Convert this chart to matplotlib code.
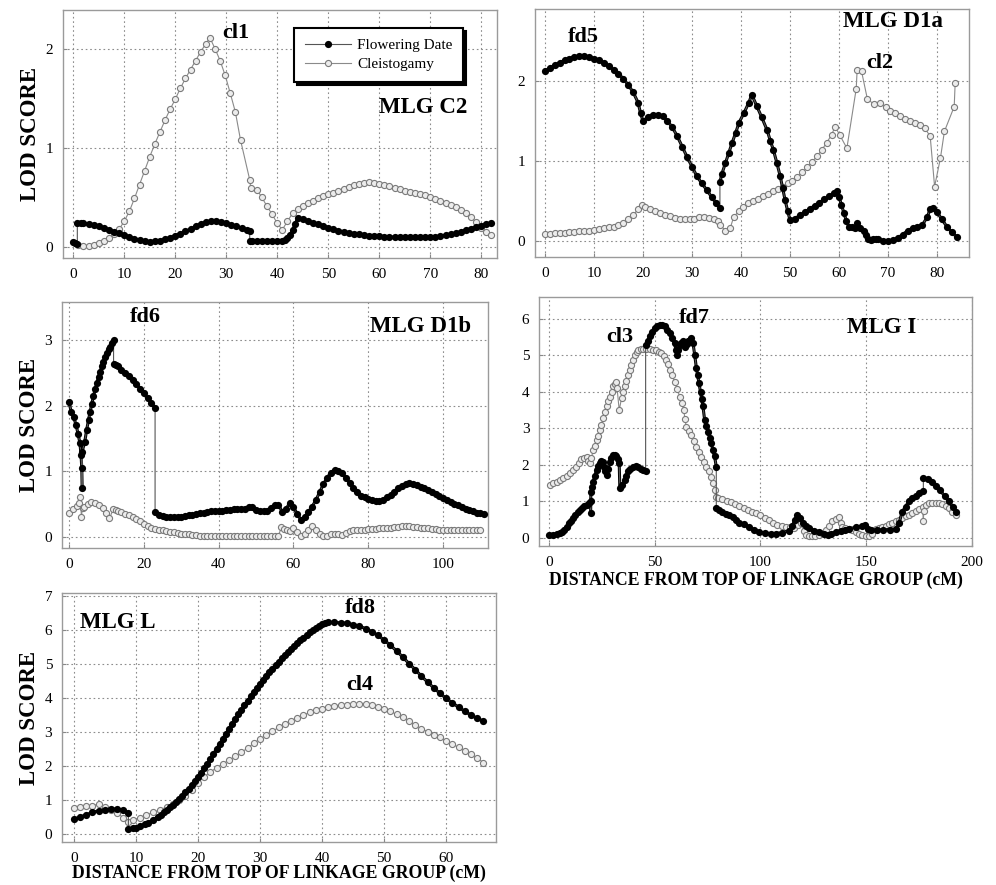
import matplotlib
matplotlib.use("Agg")
import matplotlib.pyplot as plt

plt.rcParams['font.family'] = 'serif'
plt.rcParams['font.serif'] = ['Liberation Serif', 'DejaVu Serif']

# ---------------- MLG C2 ----------------
c2_fd_x = [0, 0.4, 0.8, 0.8, 1.5] + list(range(2, 35)) + [34.6, 34.6] + list(range(35, 42)) \
    + [41.5, 42, 42.5, 43, 43.5] + list(range(44, 83))
c2_fd_y = [0.05, 0.04, 0.03, 0.24, 0.24,
           0.24, 0.23, 0.22, 0.21, 0.19, 0.17, 0.155, 0.14, 0.12, 0.10, 0.085, 0.07, 0.06, 0.055,
           0.06, 0.065, 0.08, 0.095, 0.115, 0.135, 0.16, 0.18, 0.21, 0.23, 0.25, 0.26, 0.26,
           0.25, 0.24, 0.22, 0.21, 0.19, 0.17,
           0.16, 0.06,
           0.06, 0.06, 0.06, 0.06, 0.06, 0.06, 0.06,
           0.07, 0.09, 0.12, 0.17, 0.23,
           0.29, 0.28, 0.26, 0.245, 0.23, 0.21, 0.195, 0.18, 0.165, 0.155, 0.145, 0.135, 0.13,
           0.12, 0.115, 0.11, 0.11, 0.105, 0.10, 0.10, 0.10, 0.10, 0.10, 0.10, 0.10, 0.10, 0.10,
           0.105, 0.11, 0.12, 0.13, 0.14, 0.155, 0.17, 0.185, 0.2, 0.215, 0.23, 0.24]
c2_cl_x = list(range(1, 27)) + [26.8, 27.8, 28.8, 29.8, 30.8, 31.8, 32.8, 34.6, 34.8] + list(range(36, 83))
c2_cl_y = [0.02, 0.01, 0.015, 0.02, 0.04, 0.06, 0.09, 0.13, 0.18, 0.26, 0.36, 0.49, 0.63,
           0.77, 0.91, 1.04, 1.16, 1.28, 1.39, 1.49, 1.6, 1.7, 1.79, 1.88, 1.97, 2.05,
           2.11, 2.0, 1.88, 1.73, 1.55, 1.36, 1.08, 0.68, 0.6,
           0.58, 0.5, 0.41, 0.33, 0.24, 0.175, 0.26, 0.34, 0.38, 0.41, 0.44, 0.46, 0.49, 0.51,
           0.53, 0.55, 0.57, 0.59, 0.61, 0.63, 0.64, 0.65, 0.655, 0.65, 0.64, 0.63, 0.62, 0.6,
           0.59, 0.57, 0.56, 0.55, 0.53, 0.52, 0.5, 0.48, 0.46, 0.44, 0.42, 0.4, 0.37, 0.34,
           0.3, 0.25, 0.19, 0.15, 0.12]

# ---------------- MLG D1a ----------------
d1a_fd_x = list(range(0, 20)) + [19.5, 20] + list(range(21, 36)) \
    + [35.7, 35.7, 36.1, 36.8, 37.5, 38.2, 38.9, 39.6, 40.6, 41.6, 42.2, 43.2, 44.2, 45.3,
       46, 46.6, 47.3, 48, 48.5, 49, 49.5, 50] + list(range(51, 60)) \
    + [59.5, 60, 60.5, 61, 61.5, 62, 62.7, 63.3, 63.7, 64.2, 65, 65.5, 66, 66.5, 67, 67.5, 68] \
    + list(range(69, 78)) + [78, 78.6, 79.2, 80, 81, 82, 83, 84]
d1a_fd_y = [2.12, 2.16, 2.2, 2.23, 2.26, 2.28, 2.3, 2.31, 2.31, 2.3, 2.28, 2.26, 2.23, 2.19,
            2.14, 2.09, 2.03, 1.95, 1.86, 1.73,
            1.6, 1.5,
            1.55, 1.58, 1.58, 1.56, 1.5, 1.42, 1.31, 1.18, 1.05, 0.93, 0.81, 0.72, 0.64, 0.55, 0.47,
            0.41, 0.74, 0.84, 0.97, 1.1, 1.23, 1.35, 1.48, 1.6, 1.73, 1.83, 1.69, 1.55, 1.39,
            1.25, 1.14, 0.98, 0.81, 0.66, 0.51, 0.38, 0.26,
            0.28, 0.32, 0.36, 0.4, 0.44, 0.48, 0.52, 0.56, 0.6,
            0.62, 0.55, 0.45, 0.35, 0.25, 0.18, 0.17, 0.16, 0.22, 0.16, 0.13, 0.08, 0.03, 0.01,
            0.02, 0.03, 0.02,
            0.0, 0.0, 0.01, 0.04, 0.08, 0.13, 0.16, 0.18, 0.2,
            0.3, 0.4, 0.41, 0.36, 0.27, 0.18, 0.11, 0.05]
d1a_cl_x = list(range(0, 20)) \
    + [19.7, 20.5, 21.5, 22.5, 23.5, 24.5, 25.5, 26.5, 27.5, 28.5, 29.5, 30.5, 31.5, 32.5,
       33.5, 34.5, 35.4, 35.8, 36.8, 37.8, 38.5, 39.5, 40.5, 41.5, 42.5, 43.5, 44.5, 45.5,
       46.5, 47.5, 48.5, 49.5, 50.5, 51.5, 52.5, 53.5, 54.5, 55.5, 56.5, 57.5, 58.5, 59.2,
       60.1, 61.6, 63.5, 63.7, 64.6, 65.8, 67.2, 68.3, 69.5, 70.5, 71.5, 72.5, 73.5, 74.5,
       75.5, 76.5, 77.5, 78.6, 79.5, 80.7, 81.5, 83.5, 83.7]
d1a_cl_y = [0.09, 0.09, 0.095, 0.1, 0.1, 0.11, 0.11, 0.12, 0.12, 0.13, 0.14, 0.15, 0.16,
            0.17, 0.18, 0.2, 0.22, 0.27, 0.32, 0.4,
            0.45, 0.42, 0.4, 0.37, 0.35, 0.33, 0.31, 0.29, 0.28, 0.27, 0.27, 0.28, 0.3, 0.3,
            0.29, 0.27, 0.25, 0.2, 0.13, 0.16, 0.3, 0.37, 0.42, 0.47, 0.5, 0.53, 0.56, 0.59,
            0.62, 0.65, 0.68, 0.72, 0.75, 0.8, 0.86, 0.92, 0.99, 1.06, 1.14, 1.23, 1.33, 1.43,
            1.33, 1.16, 1.9, 2.14, 2.12, 1.77, 1.71, 1.73, 1.67, 1.63, 1.6, 1.56, 1.52, 1.5,
            1.47, 1.45, 1.41, 1.31, 0.68, 1.04, 1.37, 1.68, 1.98]

# ---------------- MLG D1b ----------------
d1b_fd_x = [0, 0.6, 1.2, 1.9, 2.4, 2.9, 3.2, 3.4, 3.5, 3.5, 4.2, 4.7, 5.2, 5.6, 6.1, 6.5, 7,
            7.4, 7.9, 8.3, 8.8, 9.2, 9.7, 10.1, 10.6, 11, 11.5, 11.9, 11.9, 12.5] \
    + list(range(13, 24)) + [23] + list(range(24, 112))
d1b_fd_y = [2.05, 1.9, 1.83, 1.7, 1.57, 1.43, 1.25, 1.05, 0.75, 1.3, 1.45, 1.63, 1.78, 1.9,
            2.03, 2.14, 2.25, 2.34, 2.44, 2.52, 2.6, 2.67, 2.74, 2.8, 2.86, 2.9, 2.96, 3.0,
            2.64, 2.62,
            2.6, 2.55, 2.5, 2.45, 2.39, 2.33, 2.26, 2.19, 2.11, 2.04, 1.97,
            0.38,
            0.34, 0.32, 0.31, 0.3, 0.3, 0.3, 0.31, 0.32, 0.33, 0.34,
            0.35, 0.36, 0.37, 0.38, 0.39, 0.39, 0.4, 0.4, 0.41, 0.41,
            0.42, 0.42, 0.42, 0.43, 0.46, 0.45, 0.41, 0.4, 0.4, 0.4,
            0.44, 0.48, 0.49, 0.38, 0.42, 0.52, 0.45, 0.35, 0.26, 0.3,
            0.38, 0.46, 0.56, 0.68, 0.8, 0.9, 0.98, 1.02, 1.01, 0.97,
            0.9, 0.82, 0.74, 0.68, 0.63, 0.6, 0.58, 0.56, 0.54, 0.54,
            0.56, 0.6, 0.64, 0.69, 0.74, 0.78, 0.81, 0.82, 0.81, 0.79,
            0.76, 0.74, 0.71, 0.68, 0.65, 0.62, 0.59, 0.56, 0.53, 0.5,
            0.48, 0.45, 0.43, 0.41, 0.39, 0.37, 0.36, 0.35]
d1b_cl_x = [0, 1, 2, 2.7, 3, 3.3, 3.6, 4, 5, 6, 7, 8, 9, 10, 10.8, 11.8, 12.5] \
    + list(range(13, 57)) + [56.8, 57.5, 58.3, 59, 60, 61, 62] + list(range(63, 111))
d1b_cl_y = [0.36, 0.42, 0.47, 0.52, 0.61, 0.31, 0.44, 0.46, 0.5, 0.53, 0.52, 0.49, 0.44,
            0.36, 0.28, 0.42, 0.41,
            0.4, 0.38, 0.35, 0.33, 0.3, 0.27, 0.24, 0.2, 0.17, 0.14, 0.12, 0.11, 0.1, 0.09,
            0.08, 0.07, 0.06, 0.05, 0.05, 0.04, 0.03, 0.03, 0.02, 0.02, 0.02, 0.02, 0.02,
            0.02, 0.02, 0.02, 0.02, 0.02, 0.02, 0.02, 0.02, 0.02, 0.02, 0.02, 0.02, 0.02,
            0.02, 0.02, 0.02, 0.02,
            0.15, 0.12, 0.1, 0.09, 0.13, 0.07, 0.01,
            0.05, 0.1, 0.17, 0.1, 0.05, 0.02, 0.02, 0.04, 0.05, 0.04, 0.03, 0.06, 0.09, 0.1,
            0.1, 0.11, 0.11, 0.12, 0.12, 0.12, 0.13, 0.13, 0.14, 0.14, 0.15, 0.15, 0.16, 0.16,
            0.16, 0.15, 0.15, 0.14, 0.14, 0.13, 0.12, 0.12, 0.11, 0.11, 0.11, 0.1, 0.1, 0.1,
            0.1, 0.1, 0.1, 0.1, 0.1, 0.1]

# ---------------- MLG I ----------------
i_fd_x = [0, 2, 4, 5.2, 6, 7, 8.3, 9.5, 10.5, 11.5, 12.5, 13.5, 14.6, 15.7, 16.7, 17.8, 18.8,
          19.7, 19.7, 19.8, 20.3, 20.9, 21.7, 22.5, 23.2, 24, 24.8, 25.6, 26, 26.4, 27.2, 28,
          28.8, 29.5, 30.3, 31.1, 31.9, 32.6, 33.2, 33.5, 34.5, 35.8, 36.6, 37.4, 38.5, 39.8,
          41, 42.1, 43.3, 44.5, 45.7, 45.7, 46.6, 47.6, 48.8, 50, 51.2, 52.4, 53.5, 54.7,
          55.9, 57, 58.2, 59.4, 60, 60.5, 61.2, 61.8, 62.6, 63.4, 64, 64.5, 65.1, 65.7, 66.5,
          67.3, 68.1, 68.9, 69.7, 70.3, 70.9, 71.7, 72.2, 72.8, 73.6, 74.4, 75.2, 76, 76.7,
          77.5, 78.3, 79.1, 79.1, 80.5, 82, 83.5, 85, 86.9, 88.5, 90, 92, 94.7, 97, 99.5, 102,
          105, 107.3, 110, 113.6, 115, 116.3, 117.4, 118.5, 120, 121.5, 123, 125.5, 127.7, 130,
          131.7, 133.5, 135.6, 138, 140, 142, 145, 148, 149.5, 151, 152.2, 155, 158, 161, 164,
          165.5, 167, 168.6, 170, 171.5, 173.4, 175, 177, 177, 179, 181, 183, 185, 187, 189,
          191, 192.5]
i_fd_y = [0.08, 0.09, 0.1, 0.13, 0.17, 0.23, 0.31, 0.4, 0.47, 0.54, 0.62, 0.7, 0.77, 0.83,
          0.87, 0.9, 0.95, 1.0, 0.68, 1.27, 1.4, 1.54, 1.7, 1.86, 1.97, 2.05, 2.1, 2.09, 1.95,
          1.82, 1.73, 1.9, 2.09, 2.2, 2.27, 2.27, 2.23, 2.15, 2.05, 1.36, 1.45, 1.59, 1.7,
          1.82, 1.9, 1.95, 1.97, 1.95, 1.9, 1.86, 1.82, 5.29, 5.4, 5.52, 5.64, 5.74, 5.8,
          5.84, 5.83, 5.79, 5.7, 5.6, 5.47, 5.33, 5.15, 5.01, 5.15, 5.29, 5.35, 5.38, 5.3,
          5.24, 5.32, 5.38, 5.42, 5.47, 5.33, 5.01, 4.65, 4.45, 4.24, 4.0, 3.8, 3.6, 3.23,
          3.07, 2.91, 2.75, 2.59, 2.41, 2.23, 1.95, 0.82, 0.77, 0.72, 0.66, 0.62, 0.57, 0.5,
          0.42, 0.37, 0.3, 0.22, 0.16, 0.13, 0.12, 0.12, 0.14, 0.2, 0.33, 0.5, 0.64, 0.55,
          0.41, 0.33, 0.27, 0.2, 0.17, 0.12, 0.08, 0.12, 0.16, 0.2, 0.23, 0.25, 0.29, 0.33,
          0.36, 0.25, 0.22, 0.22, 0.22, 0.23, 0.24, 0.4, 0.72, 0.85, 1.0, 1.1, 1.15, 1.22,
          1.28, 1.63, 1.6, 1.52, 1.42, 1.3, 1.15, 1.0, 0.85, 0.72]
i_cl_x = [0.5, 2, 3.6, 5.2, 6.8, 8.4, 9.9, 11.5, 13, 14.2, 15.3, 16.5, 17.8, 18.5, 19.3, 20.1,
          20.9, 21.7, 22.5, 23.3, 24, 24.8, 25.6, 26.4, 27.2, 28, 28.8, 29.6, 30.3, 31, 31.6,
          32.2, 33.2, 34.3, 35, 35.8, 36.6, 37.4, 38.1, 38.9, 39.7, 40.6, 41.4, 42.1, 43.3,
          44.5, 46, 47.6, 49.2, 50.8, 52, 53.1, 54.2, 55.2, 56.1, 57, 58.2, 59.4, 60.6, 61.8,
          62.8, 63.7, 64.3, 64.9, 66.1, 67.3, 68.5, 69.7, 70.9, 72, 73.2, 74.4, 75.6, 76.7,
          77.5, 78.3, 78.8, 80, 82, 84, 86, 88, 90, 92, 94, 96, 98, 100, 102, 104, 106, 108,
          110, 112, 114, 116, 117.5, 119, 120.5, 121.5, 123, 124.5, 126, 127.5, 129, 130.9,
          132.5, 134, 135.5, 137.2, 138.2, 138.7, 140, 141.8, 143.4, 145, 146.6, 148.2, 149.8,
          151.3, 152.8, 154.4, 156, 157.6, 159.2, 160.8, 162.3, 163.9, 165.5, 167, 168.6,
          170.2, 171.8, 173.4, 175, 176.6, 177, 177.2, 178.4, 179.7, 181.3, 182.8, 184.4, 186,
          187.5, 189.1, 190.7, 192.3]
i_cl_y = [1.45, 1.5, 1.54, 1.58, 1.63, 1.7, 1.77, 1.86, 1.95, 2.05, 2.15, 2.2, 2.22, 2.1,
          2.05, 2.2, 2.4, 2.53, 2.67, 2.8, 2.95, 3.1, 3.28, 3.44, 3.6, 3.74, 3.87, 4.0, 4.15,
          4.22, 4.28, 4.1, 3.5, 3.82, 4.0, 4.15, 4.3, 4.47, 4.6, 4.74, 4.88, 5.01, 5.1, 5.15,
          5.17, 5.17, 5.17, 5.17, 5.16, 5.15, 5.1, 5.06, 4.97, 4.88, 4.75, 4.6, 4.45, 4.28,
          4.08, 3.87, 3.7, 3.51, 3.25, 3.05, 2.93, 2.82, 2.66, 2.5, 2.36, 2.22, 2.08, 1.95,
          1.82, 1.68, 1.5, 1.31, 1.12, 1.1, 1.07, 1.02, 0.98, 0.93, 0.87, 0.82, 0.76, 0.72,
          0.67, 0.62, 0.55, 0.48, 0.41, 0.35, 0.32, 0.31, 0.29, 0.28, 0.35, 0.4, 0.2, 0.08,
          0.05, 0.04, 0.04, 0.08, 0.14, 0.22, 0.33, 0.45, 0.52, 0.57, 0.42, 0.3, 0.27, 0.24,
          0.22, 0.17, 0.12, 0.08, 0.05, 0.04, 0.12, 0.25, 0.28, 0.3, 0.33, 0.37, 0.41, 0.45,
          0.5, 0.55, 0.59, 0.64, 0.68, 0.73, 0.8, 0.86, 0.45, 0.75, 0.9, 0.95, 0.95, 0.95,
          0.95, 0.92, 0.87, 0.81, 0.72, 0.63]

# ---------------- MLG L ----------------
l_fd_x = [0, 1, 2, 3, 4, 5, 6, 7, 8, 8.8, 8.8, 9.5, 10, 10.7, 11.5, 12, 12.8, 13.5, 14, 14.5] \
    + [v / 2 for v in range(30, 82)] + list(range(41, 67))
l_fd_y = [0.43, 0.49, 0.56, 0.63, 0.68, 0.71, 0.73, 0.73, 0.7, 0.62, 0.14, 0.16, 0.18, 0.22,
          0.28, 0.33, 0.41, 0.5, 0.56, 0.63,
          0.7, 0.78, 0.86, 0.94, 1.03, 1.12, 1.22, 1.32, 1.43, 1.55,
          1.67, 1.8, 1.93, 2.06, 2.2, 2.35, 2.5, 2.65, 2.8, 2.95,
          3.1, 3.25, 3.39, 3.53, 3.66, 3.79, 3.92, 4.05, 4.18, 4.3,
          4.42, 4.54, 4.65, 4.76, 4.87, 4.97, 5.07, 5.17, 5.27, 5.36,
          5.45, 5.53, 5.62, 5.7, 5.78, 5.86, 5.94, 6.01, 6.08, 6.14,
          6.19, 6.22,
          6.23, 6.23, 6.22, 6.2, 6.17, 6.12, 6.05, 5.96, 5.85, 5.71, 5.56, 5.39, 5.21, 5.02,
          4.84, 4.65, 4.47, 4.3, 4.14, 3.99, 3.86, 3.73, 3.61, 3.5, 3.4, 3.32]
l_cl_x = [0, 1, 2, 3, 4, 5, 6, 7, 8, 8.8, 9.6, 10.6, 11.7, 12.8, 13.9, 15] + list(range(16, 67))
l_cl_y = [0.76, 0.8, 0.82, 0.83, 0.88, 0.78, 0.7, 0.62, 0.47, 0.36, 0.41, 0.48, 0.56, 0.63,
          0.71, 0.79,
          0.89, 1.0, 1.13, 1.3, 1.5, 1.68, 1.82, 1.95, 2.06, 2.17,
          2.28, 2.4, 2.53, 2.67, 2.8, 2.91, 3.02, 3.14, 3.25, 3.33,
          3.42, 3.5, 3.58, 3.64, 3.69, 3.73, 3.77, 3.8, 3.81, 3.83,
          3.84, 3.82, 3.79, 3.74, 3.68, 3.61, 3.52, 3.43, 3.32, 3.2,
          3.1, 3.01, 2.92, 2.84, 2.74, 2.64, 2.55, 2.45, 2.35, 2.23,
          2.1]

XLABEL = 'DISTANCE FROM TOP OF LINKAGE GROUP (cM)'


def split_at_jumps(xs, ys):
    # a repeated x position marks a jump between marker intervals: break the thick line there
    out_x, out_y = [], []
    for i in range(len(xs)):
        if i > 0 and xs[i] == xs[i - 1]:
            out_x.append(float('nan'))
            out_y.append(float('nan'))
        out_x.append(xs[i])
        out_y.append(ys[i])
    return out_x, out_y


def draw_panel(ax, fd_x, fd_y, cl_x, cl_y, xlim, ylim, xticks, yticks):
    cl_line, = ax.plot(cl_x, cl_y, color='#8a8a8a', lw=0.8, marker='o', ms=4.4,
                       mfc='#ececec', mec='#7a7a7a', mew=0.8, label='Cleistogamy', zorder=2)
    bx, by = split_at_jumps(fd_x, fd_y)
    ax.plot(bx, by, color='black', lw=2.2, solid_joinstyle='round', zorder=3)
    fd_line, = ax.plot(fd_x, fd_y, color='#555555', lw=0.8, marker='o', ms=5.2,
                       mfc='black', mec='black', mew=0, label='Flowering Date', zorder=3)
    ax.set_xlim(*xlim)
    ax.set_ylim(*ylim)
    ax.set_xticks(xticks)
    ax.set_yticks(yticks)
    ax.set_axisbelow(True)
    ax.grid(True, linestyle=(0, (1.5, 2.5)), color='#8c8c8c', lw=0.8)
    ax.tick_params(direction='in', length=3, color='#888888', labelsize=11, pad=7)
    for s in ax.spines.values():
        s.set_color('#9a9a9a')
        s.set_linewidth(1.0)
    return fd_line, cl_line


def lod_label(ax, xpos):
    ax.set_ylabel('LOD SCORE', fontsize=16.5, fontweight='bold')
    ax.yaxis.set_label_coords(xpos, 0.5)


fig = plt.figure(figsize=(9.96, 8.85), dpi=100)

ax1 = fig.add_axes([0.0633, 0.7085, 0.4357, 0.2802])
fd_line, cl_line = draw_panel(ax1, c2_fd_x, c2_fd_y, c2_cl_x, c2_cl_y, (-2, 83.1), (-0.11, 2.39),
                              range(0, 81, 10), [0, 1, 2])
lod_label(ax1, -0.05)
ax1.text(31.8, 2.16, 'cl1', fontsize=16, fontweight='bold', ha='center', va='center')
ax1.text(68.6, 1.41, 'MLG C2', fontsize=16.5, fontweight='bold', ha='center', va='center')
leg = ax1.legend(handles=[fd_line, cl_line], loc='upper left', bbox_to_anchor=(0.533, 0.928),
                 frameon=True, fancybox=False, shadow={'color': 'black', 'alpha': 1},
                 edgecolor='black', framealpha=1, fontsize=11, handlelength=3.0,
                 borderpad=0.7, labelspacing=0.35, handletextpad=0.4, borderaxespad=0)
leg.get_frame().set_linewidth(1.5)

ax2 = fig.add_axes([0.5371, 0.7096, 0.4357, 0.2802])
draw_panel(ax2, d1a_fd_x, d1a_fd_y, d1a_cl_x, d1a_cl_y, (-2.04, 86.5), (-0.2, 2.9),
           range(0, 81, 10), [0, 1, 2])
ax2.text(7.8, 2.55, 'fd5', fontsize=16, fontweight='bold', ha='center', va='center')
ax2.text(70.9, 2.74, 'MLG D1a', fontsize=16.5, fontweight='bold', ha='center', va='center')
ax2.text(68.4, 2.23, 'cl2', fontsize=16, fontweight='bold', ha='center', va='center')

ax3 = fig.add_axes([0.0622, 0.3808, 0.4277, 0.278])
draw_panel(ax3, d1b_fd_x, d1b_fd_y, d1b_cl_x, d1b_cl_y, (-1.9, 112), (-0.17, 3.58),
           range(0, 101, 20), [0, 1, 2, 3])
lod_label(ax3, -0.051)
ax3.text(20.3, 3.35, 'fd6', fontsize=16, fontweight='bold', ha='center', va='center')
ax3.text(93.9, 3.2, 'MLG D1b', fontsize=16.5, fontweight='bold', ha='center', va='center')

ax4 = fig.add_axes([0.5412, 0.3831, 0.4347, 0.2814])
draw_panel(ax4, i_fd_x, i_fd_y, i_cl_x, i_cl_y, (-4.7, 199.5), (-0.22, 6.6),
           range(0, 201, 50), range(0, 7))
ax4.text(33.5, 5.5, 'cl3', fontsize=16, fontweight='bold', ha='center', va='center')
ax4.text(68.9, 6.03, 'fd7', fontsize=16, fontweight='bold', ha='center', va='center')
ax4.text(157.5, 5.75, 'MLG I', fontsize=16.5, fontweight='bold', ha='center', va='center')
ax4.text(0.5, -0.137, XLABEL, transform=ax4.transAxes, fontsize=12.8, fontweight='bold',
         ha='center', va='center')

ax5 = fig.add_axes([0.0622, 0.0486, 0.4357, 0.2814])
draw_panel(ax5, l_fd_x, l_fd_y, l_cl_x, l_cl_y, (-1.9, 68), (-0.24, 7.1),
           range(0, 61, 10), range(0, 8))
lod_label(ax5, -0.05)
ax5.text(7.1, 6.24, 'MLG L', fontsize=16.5, fontweight='bold', ha='center', va='center')
ax5.text(46.1, 6.65, 'fd8', fontsize=16, fontweight='bold', ha='center', va='center')
ax5.text(46.1, 4.38, 'cl4', fontsize=16, fontweight='bold', ha='center', va='center')
ax5.text(0.5, -0.124, XLABEL, transform=ax5.transAxes, fontsize=12.8, fontweight='bold',
         ha='center', va='center')

fig.savefig('out.png', dpi=100)
